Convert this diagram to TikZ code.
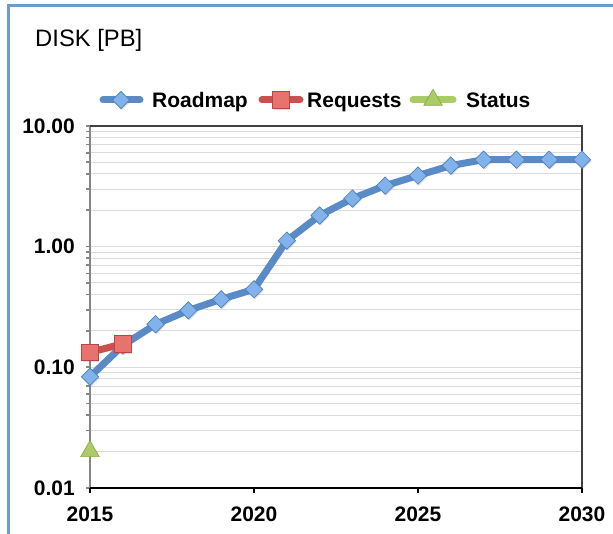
\documentclass[tikz,border=0pt]{standalone}
\usepackage{fontspec}
\setmainfont{Liberation Sans}
\usetikzlibrary{shapes.geometric, shadows}
\definecolor{frameblue}{HTML}{6A9BD1}
\definecolor{roadblue}{HTML}{5A8BC6}
\definecolor{roadfill}{HTML}{82B2EA}
\definecolor{roadedge}{HTML}{4A7EBB}
\definecolor{reqred}{HTML}{C9504D}
\definecolor{reqfill}{HTML}{E8726E}
\definecolor{reqedge}{HTML}{B84744}
\definecolor{statfill}{HTML}{AACB66}
\definecolor{statedge}{HTML}{8AAA4A}
\definecolor{gridgray}{HTML}{DCDCDC}
\definecolor{axisgray}{HTML}{868686}

\begin{document}
\begin{tikzpicture}[
    x=0.984cm, y=3.621cm,
    every node/.style={font=\bfseries\fontsize{17.9}{20}\selectfont, inner sep=0pt},
    charttitle/.style={font=\fontsize{20.3}{24}\selectfont, anchor=west},
    framebox/.style={draw=frameblue, line width=0.09cm},
    gridline/.style={draw=gridgray, line width=0.03cm},
    leftaxis/.style={draw=axisgray, line width=0.05cm},
    topframe/.style={draw=black!75, line width=0.05cm},
    baseaxis/.style={draw=black, line width=0.06cm},
    ylab/.style={anchor=east, xshift=-0.45cm},
    xlab/.style={anchor=center, yshift=-0.78cm},
    leglab/.style={anchor=base west},
    roadline/.style={draw=roadblue, line width=0.21cm, line join=round},
    reqline/.style={draw=reqred, line width=0.21cm, line join=round},
    statline/.style={draw=statfill, line width=0.21cm},
    roadmark/.style={diamond, minimum size=0.53cm, fill=roadfill, draw=roadedge,
        line width=0.02cm, drop shadow={opacity=0.25, shadow xshift=0.03cm, shadow yshift=-0.04cm}},
    reqmark/.style={rectangle, minimum size=0.5cm, fill=reqfill, draw=reqedge,
        line width=0.02cm, drop shadow={opacity=0.25, shadow xshift=0.03cm, shadow yshift=-0.04cm}},
    statmark/.style={regular polygon, regular polygon sides=3, minimum size=0.64cm,
        fill=statfill, draw=statedge, line width=0.02cm},
]

\useasboundingbox (-2.7cm,-1.35cm) rectangle (15.69cm,14.64cm);

% outer frame (runs off the page at right and bottom)
\draw[framebox] (-2.43cm,-3cm) rectangle (17cm,14.46cm);

\node[charttitle] (title) at (-1.65cm,13.44cm) {DISK [PB]};

% legend
\coordinate (legroadl) at (0.39cm,11.64cm);
\coordinate (legroadr) at (1.5cm,11.64cm);
\draw[roadline, line cap=round] (legroadl) -- (legroadr);
\node[roadmark] (legroad) at (0.93cm,11.64cm) {};
\node[leglab] (legroadtxt) at (1.86cm,11.41cm) {Roadmap};

\coordinate (legreql) at (5.16cm,11.64cm);
\coordinate (legreqr) at (6.3cm,11.64cm);
\draw[reqline, line cap=round] (legreql) -- (legreqr);
\node[reqmark] (legreq) at (5.73cm,11.64cm) {};
\node[leglab] (legreqtxt) at (6.51cm,11.41cm) {Requests};

\coordinate (legstatl) at (9.69cm,11.64cm);
\coordinate (legstatr) at (10.89cm,11.64cm);
\draw[statline, line cap=round] (legstatl) -- (legstatr);
\node[statmark] (legstat) at (10.29cm,11.64cm) {};
\node[leglab] (legstattxt) at (11.28cm,11.41cm) {Status};

% log grid and ticks
\foreach \d in {0,1,2}
  \foreach \m in {1,...,9} {
    \draw[gridline] (0,{\d+log10(\m)}) -- (15,{\d+log10(\m)});
    \draw[leftaxis] (0,{\d+log10(\m)}) -- ++(-0.12cm,0);
  }
\draw[leftaxis] (0,3) -- ++(-0.12cm,0);

% plot frame
\draw[leftaxis] (0,0) -- (0,3);
\draw[topframe] (0,3) -- (15,3) -- (15,0);
\draw[baseaxis] (0,0) -- (15,0);
\foreach \t in {0,5,10,15}
  \draw[baseaxis] (\t,0) -- ++(0,-0.15cm);

% axis labels
\foreach \lab [count=\i from 0] in {0.01,0.10,1.00,10.00}
  \node[ylab] (ylab\i) at (0,\i) {\lab};
\foreach \yr in {2015,2020,2025,2030}
  \node[xlab] (xlab\yr) at ({\yr-2015},0) {\yr};

% Roadmap
\foreach \yr/\val [count=\i] in {2015/0.083, 2016/0.15, 2017/0.227, 2018/0.296,
    2019/0.366, 2020/0.443, 2021/1.12, 2022/1.81, 2023/2.5, 2024/3.2,
    2025/3.88, 2026/4.69, 2027/5.25, 2028/5.25, 2029/5.25, 2030/5.25}
  \coordinate (road\i) at ({\yr-2015},{log10(\val)+2});
\draw[roadline] (road1) \foreach \i in {2,...,16} { -- (road\i) };
\foreach \i in {1,...,16}
  \node[roadmark] (roadm\i) at (road\i) {};

% Requests
\coordinate (req1) at (0,{log10(0.13)+2});
\coordinate (req2) at (1,{log10(0.155)+2});
\draw[reqline] (req1) -- (req2);
\node[reqmark] (reqm1) at (req1) {};
\node[reqmark] (reqm2) at (req2) {};

% Status
\node[statmark] (statm1) at (0,{log10(0.02)+2}) {};

\end{tikzpicture}
\end{document}
